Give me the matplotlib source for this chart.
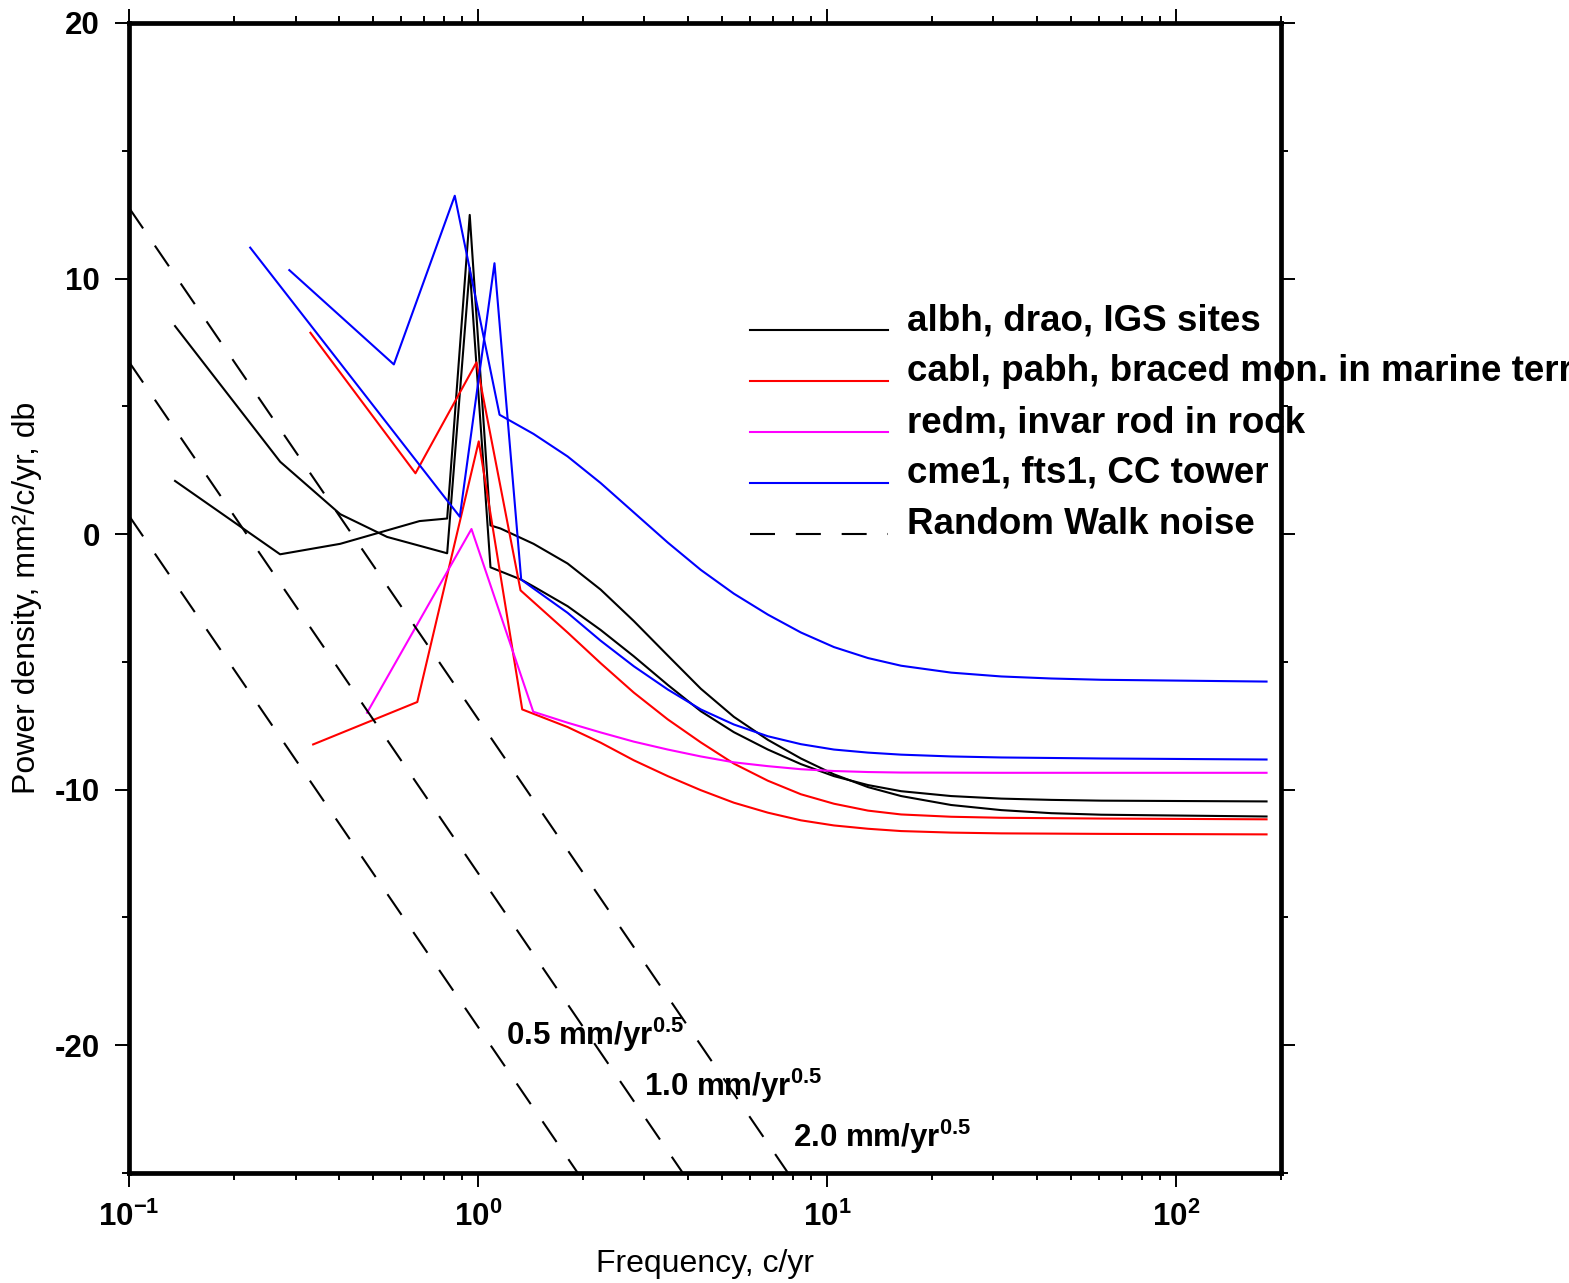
import matplotlib
matplotlib.use('Agg')
import matplotlib.pyplot as plt
from matplotlib.ticker import MultipleLocator, LogLocator, NullFormatter

plt.rcParams['font.family'] = ['Liberation Sans', 'DejaVu Sans']
plt.rcParams['mathtext.fontset'] = 'custom'
plt.rcParams['mathtext.rm'] = 'Liberation Sans'
plt.rcParams['mathtext.bf'] = 'Liberation Sans:bold'
plt.rcParams['mathtext.it'] = 'Liberation Sans:italic'

# ---------------- data (frequency c/yr, power density db) ----------------
black1_f = [0.1355, 0.271, 0.403, 0.68, 0.816, 0.947, 1.086, 1.16, 1.443, 1.806, 2.246, 2.795, 3.498, 4.35, 5.41, 6.771, 8.421, 10.47, 13.11, 16.31, 22.69, 31.57, 43.93, 61.12, 181.8]
black1_db = [2.08, -0.79, -0.38, 0.51, 0.61, 12.49, 0.34, 0.22, -0.38, -1.15, -2.17, -3.4, -4.75, -6.05, -7.15, -8.05, -8.78, -9.4, -9.9, -10.25, -10.6, -10.8, -10.92, -10.98, -11.05]

black2_f = [0.1355, 0.2712, 0.403, 0.549, 0.816, 0.947, 1.086, 1.33, 1.443, 1.806, 2.246, 2.795, 3.498, 4.35, 5.41, 6.771, 8.421, 10.47, 13.11, 16.31, 22.69, 31.57, 43.93, 61.12, 181.8]
black2_db = [8.14, 2.83, 0.78, -0.11, -0.75, 10.41, -1.30, -1.78, -2.05, -2.82, -3.75, -4.78, -5.9, -6.93, -7.75, -8.43, -9.0, -9.47, -9.82, -10.06, -10.25, -10.35, -10.4, -10.43, -10.46]

red1_f = [0.331, 0.662, 0.99, 1.324, 1.806, 2.246, 2.795, 3.498, 4.35, 5.41, 6.771, 8.421, 10.47, 13.11, 16.31, 22.69, 31.57, 61.12, 181.8]
red1_db = [7.88, 2.38, 6.72, -2.2, -3.85, -5.05, -6.2, -7.25, -8.15, -8.98, -9.65, -10.18, -10.55, -10.82, -10.97, -11.06, -11.1, -11.13, -11.16]

red2_f = [0.337, 0.67, 1.005, 1.339, 1.806, 2.246, 2.795, 3.498, 4.35, 5.41, 6.771, 8.421, 10.47, 13.11, 16.31, 22.69, 31.57, 61.12, 181.8]
red2_db = [-8.23, -6.57, 3.63, -6.86, -7.55, -8.16, -8.85, -9.47, -10.02, -10.51, -10.9, -11.2, -11.4, -11.53, -11.62, -11.68, -11.71, -11.73, -11.75]

magenta_f = [0.481, 0.958, 1.44, 1.806, 2.246, 2.795, 3.498, 4.35, 5.41, 6.771, 8.421, 10.47, 13.11, 16.31, 31.57, 181.8]
magenta_db = [-6.99, 0.2, -6.95, -7.38, -7.76, -8.12, -8.43, -8.7, -8.93, -9.08, -9.2, -9.27, -9.31, -9.33, -9.34, -9.34]

blue1_f = [0.2225, 0.887, 1.115, 1.33, 1.443, 1.806, 2.246, 2.795, 3.498, 4.35, 5.41, 6.771, 8.421, 10.47, 13.11, 16.31, 22.69, 31.57, 61.12, 181.8]
blue1_db = [11.21, 0.68, 10.6, -1.78, -2.13, -3.08, -4.17, -5.17, -6.08, -6.86, -7.45, -7.91, -8.22, -8.43, -8.55, -8.63, -8.7, -8.74, -8.78, -8.82]

blue2_f = [0.288, 0.574, 0.858, 1.153, 1.443, 1.806, 2.246, 2.795, 3.498, 4.35, 5.41, 6.771, 8.421, 10.47, 13.11, 16.31, 22.69, 31.57, 43.93, 61.12, 181.8]
blue2_db = [10.33, 6.64, 13.24, 4.67, 3.92, 3.04, 2.0, 0.85, -0.33, -1.4, -2.33, -3.15, -3.85, -4.42, -4.85, -5.15, -5.42, -5.57, -5.65, -5.70, -5.77]

# random walk reference lines: end points
rw_f = [0.1, 10.0]
rw_db_05 = [0.72, -39.28]
rw_db_10 = [6.74, -33.26]
rw_db_20 = [12.77, -27.23]
rw_labels = ['0.5', '1.0', '2.0']
rw_label_f = [1.2, 3.0, 8.0]
rw_label_db = [-20.0, -22.0, -24.0]

legend_labels = ['albh, drao, IGS sites',
                 'cabl, pabh, braced mon. in marine terrace',
                 'redm, invar rod in rock',
                 'cme1, fts1, CC tower',
                 'Random Walk noise']
legend_colors = ['black', 'red', 'magenta', 'blue', 'black']

# ---------------- figure ----------------
W, H = 1569, 1283
fig = plt.figure(figsize=(W / 100, H / 100), dpi=100)
ax = fig.add_axes([129 / W, 1 - 1173 / H, 1152 / W, 1150 / H])
ax.set_xscale('log')
ax.set_xlim(0.1, 200)
ax.set_ylim(-25, 20)

lw = 1.5
ax.plot(black1_f, black1_db, color='black', lw=lw)
ax.plot(black2_f, black2_db, color='black', lw=lw)
ax.plot(red1_f, red1_db, color='#ff0000', lw=lw)
ax.plot(red2_f, red2_db, color='#ff0000', lw=lw)
ax.plot(magenta_f, magenta_db, color='#ff00ff', lw=lw)
ax.plot(blue1_f, blue1_db, color='#0000ff', lw=lw)
ax.plot(blue2_f, blue2_db, color='#0000ff', lw=lw)

dash = (0, (12, 10))
for d in (rw_db_05, rw_db_10, rw_db_20):
    ax.plot(rw_f, d, color='black', lw=1.5, linestyle=dash)

for lab, fx, dy in zip(rw_labels, rw_label_f, rw_label_db):
    ax.text(fx, dy, lab + r' mm/yr$^{\mathbf{0.5}}$', fontsize=22.5, fontweight='bold',
            va='baseline', ha='left')

# manual legend (axes fraction coords)
leg_y_px = [330, 381, 432, 483, 534]
for lab, col, ypx, i in zip(legend_labels, legend_colors, leg_y_px, range(5)):
    yf = (1173 - ypx) / 1150
    ls = dash if i == 4 else '-'
    ax.plot([(750 - 129) / 1152, (888 - 129) / 1152], [yf, yf], transform=ax.transAxes,
            color=col, lw=1.5, linestyle=ls, clip_on=False)
    ax.text((907 - 129) / 1152, yf, lab, transform=ax.transAxes, fontsize=26.5,
            fontweight='bold', va='baseline', ha='left', clip_on=False)

# axes styling
for s in ax.spines.values():
    s.set_linewidth(3.4)
ax.yaxis.set_major_locator(MultipleLocator(10))
ax.yaxis.set_minor_locator(MultipleLocator(5))
ax.xaxis.set_minor_locator(LogLocator(base=10, subs=range(2, 10), numticks=20))
ax.xaxis.set_minor_formatter(NullFormatter())
ax.set_xticks([0.1, 1, 10, 100])
ax.set_xticklabels([r'$\mathbf{10^{-1}}$', r'$\mathbf{10^{0}}$', r'$\mathbf{10^{1}}$', r'$\mathbf{10^{2}}$'])
ax.set_yticks([20, 10, 0, -10, -20])
ax.set_yticklabels(['20', '10', '0', '-10', '-20'])
ax.tick_params(which='both', direction='out', top=True, right=True, width=1.4)
ax.tick_params(which='major', length=10, labelsize=22.5, pad=11)
ax.tick_params(which='minor', length=5)
for t in ax.get_yticklabels():
    t.set_fontweight('bold')

ax.set_xlabel('Frequency, c/yr', fontsize=23)
ax.set_ylabel('Power density, mm\u00b2/c/yr, db', fontsize=23)
ax.xaxis.set_label_coords(0.5, -0.066)
ax.yaxis.set_label_coords(-0.0755, 0.5)

fig.savefig('out.png', dpi=100)
